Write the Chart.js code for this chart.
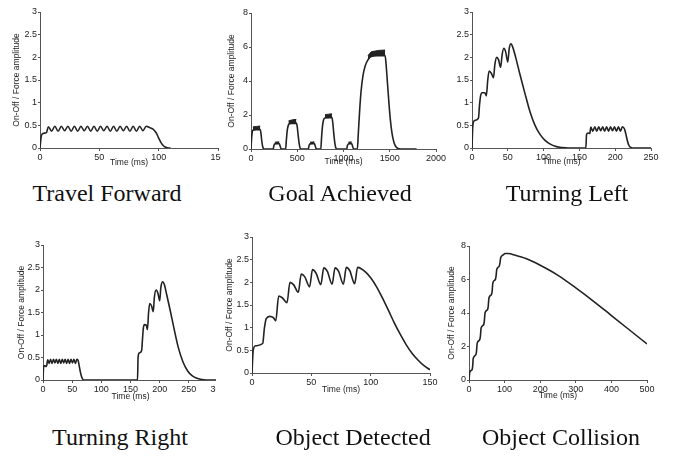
<!DOCTYPE html>
<html>
<head>
<meta charset="utf-8">
<script src="https://cdn.jsdelivr.net/npm/chart.js@4.4.1/dist/chart.umd.min.js"></script>
<style>
  body { margin: 0; background: #fff; width: 676px; height: 459px; position: relative; overflow: hidden; }
  .cell { position: absolute; overflow: hidden; }
  .cell canvas { position: absolute; left: 0; top: 0; }
  .cap { position: absolute; font-family: 'Liberation Serif', serif; font-size: 24px; color: #111;
         transform: translate(-50%, -50%); white-space: nowrap; }
</style>
</head>
<body>
<div class="cell" id="cell-tf"><canvas id="tf"></canvas></div>
<div class="cell" id="cell-ga"><canvas id="ga"></canvas></div>
<div class="cell" id="cell-tl"><canvas id="tl"></canvas></div>
<div class="cell" id="cell-tr"><canvas id="tr"></canvas></div>
<div class="cell" id="cell-od"><canvas id="od"></canvas></div>
<div class="cell" id="cell-oc"><canvas id="oc"></canvas></div>

<div class="cap" style="left:107px;top:193px">Travel Forward</div>
<div class="cap" style="left:340px;top:193px">Goal Achieved</div>
<div class="cap" style="left:567px;top:193px">Turning Left</div>
<div class="cap" style="left:120px;top:437px">Turning Right</div>
<div class="cap" style="left:353px;top:437px">Object Detected</div>
<div class="cap" style="left:561px;top:437px">Object Collision</div>

<script>
// Travel Forward
const travelT = [0,1,2.5,4.5,5.5,7,9.75,12.5,15.25,18,20.75,23.5,26.25,29,31.75,34.5,37.25,40,42.75,45.5,48.25,51,53.75,56.5,59.25,62,64.75,67.5,70.25,73,75.75,78.5,81.25,84,86.75,89.5,92.25,95,98,100,102,104,106,108,110,113,150];
const travelV = [0,0.25,0.32,0.33,0.34,
  0.47,0.37,0.48,0.37,0.48,0.38,0.48,0.37,0.48,0.37,0.48,0.38,0.48,0.37,0.48,0.37,0.48,0.38,
  0.48,0.37,0.48,0.37,0.48,0.38,0.48,0.37,0.48,0.37,0.48,0.38,0.48,
  0.45,0.42,0.33,0.22,0.12,0.05,0.015,0,0];

// Goal Achieved (main trace + dense oscillation band)
const goalT = [0,5,12,20,100,108,116,124,132,140,
  240,248,258,305,313,322,330,
  375,382,392,405,420,490,500,510,520,530,540,
  620,628,638,685,693,702,710,
  755,762,772,785,800,875,885,895,905,915,925,
  1035,1042,1052,1088,1096,1105,1112,
  1150,1160,1175,1190,1210,1235,1265,1300,1450,1460,1475,1490,1505,1525,1545,1565,1590,1620,1790];
const goalV = [0,0.5,0.95,1.1,1.15,0.9,0.5,0.2,0.05,0,
  0,0.2,0.3,0.32,0.2,0.05,0,
  0,0.5,1.1,1.42,1.5,1.52,1.3,0.8,0.35,0.08,0,
  0,0.2,0.3,0.32,0.2,0.05,0,
  0,0.6,1.3,1.72,1.82,1.85,1.5,0.9,0.4,0.1,0,
  0,0.2,0.3,0.32,0.2,0.05,0,
  0,0.9,2.3,3.4,4.3,4.9,5.25,5.45,5.5,5.0,3.9,2.8,1.8,0.9,0.4,0.15,0.03,0,0];
const goalBandT  = [20,60,100,180,258,282,305,350,405,450,490,580,638,662,685,730,800,840,875,980,1052,1070,1088,1120,1265,1300,1380,1450];
const goalBandLo = [1.1,1.13,1.15,null,0.3,0.31,0.32,null,1.42,1.5,1.52,null,0.3,0.31,0.32,null,1.82,1.84,1.85,null,0.3,0.31,0.32,null,5.25,5.45,5.48,5.5];
const goalBandHi = [1.3,1.33,1.35,null,0.4,0.41,0.42,null,1.65,1.72,1.74,null,0.4,0.41,0.42,null,2.02,2.05,2.07,null,0.4,0.41,0.42,null,5.5,5.72,5.8,5.82];

// Turning Left
const leftT = [0,1,3,9,10.5,12,14,18,20,22,24,27,30,32,34.5,37,40,42,44.5,47,50,52,54.5,57,
  61,67,74,81,88,95,102,110,118,126,134,
  159,160,162,164.5,
  166,168.75,171.5,174.25,177,179.75,182.5,185.25,188,190.75,193.5,196.25,199,201.75,204.5,207.25,210,
  213,215,217,219,221,224,250];
const leftV = [0,0.45,0.6,0.66,0.95,1.15,1.22,1.22,1.15,1.5,1.7,1.65,1.55,1.85,2.0,1.95,1.78,2.05,2.2,2.12,1.9,2.2,2.3,2.22,
  2.0,1.62,1.2,0.8,0.5,0.3,0.17,0.08,0.03,0.01,0,
  0,0.3,0.33,0.32,
  0.46,0.37,0.47,0.37,0.47,0.38,0.47,0.37,0.47,0.37,0.47,0.38,0.47,0.37,0.47,0.37,0.47,
  0.42,0.3,0.16,0.06,0.02,0,0];

// Turning Right
const rightT = [0,1,3,5.5,6.5,
  8,10.5,13,15.5,18,20.5,23,25.5,28,30.5,33,35.5,38,40.5,43,45.5,48,50.5,53,55.5,58,
  60,62,64,66,68,71,
  162,163,165,169,170.5,172,174,177,179,181,183,186,189,191,194,197,200,202,205,208,
  212,218,225,232,240,248,256,264,272,280,300];
const rightV = [0,0.28,0.32,0.3,0.33,
  0.45,0.37,0.46,0.37,0.46,0.38,0.46,0.37,0.46,0.37,0.46,0.38,0.46,0.37,0.46,0.37,0.46,0.38,0.46,0.37,0.46,
  0.44,0.32,0.18,0.08,0.02,0,
  0,0.5,0.6,0.65,0.9,1.15,1.23,1.22,1.12,1.5,1.7,1.65,1.52,1.85,2.0,1.93,1.76,2.05,2.18,2.12,
  1.9,1.55,1.12,0.72,0.4,0.2,0.09,0.04,0.01,0,0];

// Object Detected
const detT = [0,1,3,9,10.5,12,15,18,20,
  22.5,25.5,29.5,32,35,39,41.5,44.5,48.5,51,54,58,60.5,63.5,67.5,70,73,77,79.5,82.5,86.5,89,92,96,
  100,105,110,115,120,125,130,135,140,145,150];
const detV = [0,0.5,0.6,0.65,1.0,1.2,1.25,1.22,1.15,
  1.7,1.66,1.55,2.0,1.95,1.78,2.18,2.12,1.9,2.28,2.2,1.95,2.32,2.24,1.96,2.32,2.24,1.96,2.33,2.25,1.97,2.33,2.3,2.22,
  2.1,1.9,1.65,1.38,1.1,0.85,0.62,0.43,0.28,0.16,0.07];

// Object Collision
const colT = [0,2,8,10,12,19,21,23,30,32,34,41,43,45,52,54,56,63,65,67,74,76,78,85,87,89,95,102,110,130,160,200,250,300,350,400,450,500];
const colV = [0,0.45,0.6,0.75,1.3,1.5,1.7,2.2,2.4,2.6,3.1,3.3,3.5,4.0,4.2,4.4,4.9,5.1,5.3,5.8,6.0,6.2,6.6,6.8,7.0,7.3,7.45,7.55,7.55,7.45,7.25,6.85,6.25,5.5,4.7,3.85,3.0,2.15];

// tick labels
const yTicks3 = [0,0.5,1,1.5,2,2.5,3];
const yTicks8 = [0,2,4,6,8];
const xTicksTravel = [0,50,100,150];
const xTicksGoal = [0,500,1000,1500,2000];
const xTicksLeft = [0,50,100,150,200,250];
const xTicksRight = [0,50,100,150,200,250,300];
const xTicksDet = [0,50,100,150];
const xTicksCol = [0,100,200,300,400,500];

const xTitle = 'Time (ms)';
const yTitle = 'On-Off / Force amplitude';

const LINE = '#222';
const AXIS = '#555';
const TXT = '#222';

function pts(xs, ys) {
    return xs.map((x, i) => ({ x: x, y: ys[i] }));
}

function trace(xs, ys) {
    return {
        data: pts(xs, ys),
        borderColor: LINE,
        borderWidth: 1.6,
        pointRadius: 0,
        cubicInterpolationMode: 'monotone',
        fill: false
    };
}

// one panel: cell = clip box on the page, area = plot area on the page
function panel(id, p) {
    const cell = document.getElementById('cell-' + id);
    const cv = document.getElementById(id);
    const [cl, ct, cw, ch] = p.cell;
    cell.style.left = cl + 'px';
    cell.style.top = ct + 'px';
    cell.style.width = cw + 'px';
    cell.style.height = ch + 'px';
    cv.width = p.canvasW;
    cv.height = ch;

    const [al, at, ar, ab] = p.area;
    const yW = al - cl;
    const xH = ct + ch - ab;
    const tickFont = { family: 'Liberation Sans, Arial, sans-serif', size: 9 };
    const titleFont = { family: 'Liberation Sans, Arial, sans-serif', size: 8.5 };

    new Chart(cv, {
        type: 'line',
        data: { datasets: p.datasets },
        options: {
            responsive: false,
            animation: false,
            events: [],
            layout: { padding: { left: 0, bottom: 0, top: at - ct, right: cl + p.canvasW - ar } },
            plugins: { legend: { display: false }, tooltip: { enabled: false } },
            scales: {
                x: {
                    type: 'linear',
                    min: p.xTicks[0],
                    max: p.xTicks[p.xTicks.length - 1],
                    afterBuildTicks: s => { s.ticks = p.xTicks.map(v => ({ value: v })); },
                    afterFit: s => { s.height = xH; },
                    border: { color: AXIS, width: 1 },
                    grid: { display: true, drawOnChartArea: false, tickLength: 3, color: AXIS },
                    ticks: { font: tickFont, color: TXT, padding: 1, maxRotation: 0, autoSkip: false,
                             callback: v => String(v) },
                    title: { display: true, text: xTitle, font: titleFont, color: TXT,
                             padding: { top: 0, bottom: ct + ch - p.xTitleY - 5 } }
                },
                y: {
                    type: 'linear',
                    min: p.yTicks[0],
                    max: p.yTicks[p.yTicks.length - 1],
                    afterBuildTicks: s => { s.ticks = p.yTicks.map(v => ({ value: v })); },
                    afterFit: s => { s.width = yW; },
                    border: { color: AXIS, width: 1 },
                    grid: { display: true, drawOnChartArea: false, tickLength: 2, color: AXIS },
                    ticks: { font: tickFont, color: TXT, padding: 1, autoSkip: false,
                             callback: v => String(v) },
                    title: { display: p.yTitleX !== null, text: yTitle, font: titleFont, color: TXT,
                             padding: { top: (p.yTitleX || 0) - cl - 5, bottom: 0 } }
                }
            }
        }
    });
}

panel('tf', {
    cell: [0, 0, 221, 172], canvasW: 240, area: [40, 12, 218, 148],
    yTitleX: 17, xTitleY: 163, xTicks: xTicksTravel, yTicks: yTicks3,
    datasets: [trace(travelT, travelV)]
});

panel('ga', {
    cell: [208, 0, 244, 172], canvasW: 244, area: [251, 13, 436, 149],
    yTitleX: 232, xTitleY: 162, xTicks: xTicksGoal, yTicks: yTicks8,
    datasets: [
        trace(goalT, goalV),
        { data: pts(goalBandT, goalBandLo), borderWidth: 0, pointRadius: 0, fill: false },
        { data: pts(goalBandT, goalBandHi), borderColor: LINE, borderWidth: 1, pointRadius: 0,
          backgroundColor: LINE, fill: '-1' }
    ]
});

panel('tl', {
    cell: [440, 0, 236, 172], canvasW: 236, area: [472, 12, 651, 148],
    yTitleX: null, xTitleY: 162, xTicks: xTicksLeft, yTicks: yTicks3,
    datasets: [trace(leftT, leftV)]
});

panel('tr', {
    cell: [0, 225, 216, 180], canvasW: 240, area: [43, 245, 218, 380],
    yTitleX: 22, xTitleY: 397, xTicks: xTicksRight, yTicks: yTicks3,
    datasets: [trace(rightT, rightV)]
});

panel('od', {
    cell: [208, 225, 240, 175], canvasW: 240, area: [252, 237, 430, 373],
    yTitleX: 230, xTitleY: 390, xTicks: xTicksDet, yTicks: yTicks3,
    datasets: [trace(detT, detV)]
});

panel('oc', {
    cell: [430, 225, 246, 180], canvasW: 246, area: [469, 246, 647, 380],
    yTitleX: 452, xTitleY: 396, xTicks: xTicksCol, yTicks: yTicks8,
    datasets: [trace(colT, colV)]
});
</script>
</body>
</html>
